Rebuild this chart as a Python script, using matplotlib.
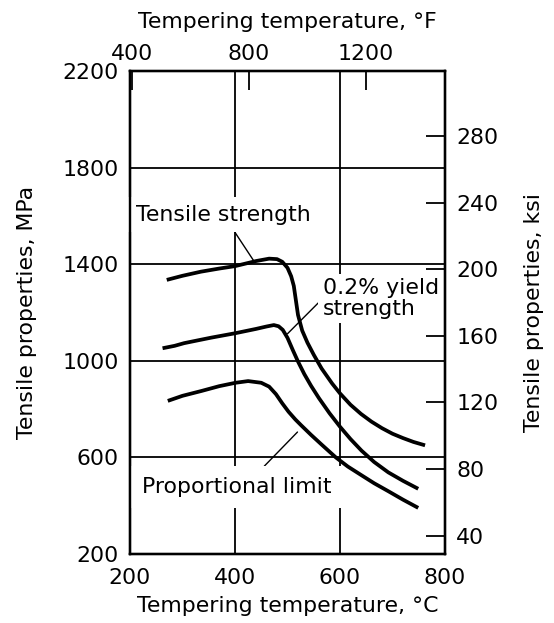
import matplotlib
matplotlib.use("Agg")
import matplotlib.pyplot as plt

# Tempering temperature (deg C) and tensile properties (MPa)
ts_temp = [270, 300, 335, 370, 400, 440, 465, 480, 490, 500, 507, 512, 516, 520,
           528, 538, 550, 565, 585, 600, 620, 640, 660, 680, 700, 720, 740, 762]
ts_mpa = [1335, 1352, 1369, 1382, 1392, 1413, 1423, 1421, 1410, 1385, 1350, 1310,
          1250, 1190, 1125, 1075, 1025, 968, 906, 865, 818, 780, 748, 721, 698,
          680, 664, 650]

ys_temp = [262, 285, 303, 330, 355, 400, 440, 460, 474, 483, 491, 500, 510, 520,
           532, 545, 560, 580, 600, 620, 641, 665, 692, 720, 749]
ys_mpa = [1052, 1062, 1073, 1085, 1096, 1114, 1132, 1142, 1148, 1143, 1128, 1095,
          1045, 997, 945, 896, 845, 783, 727, 676, 628, 581, 538, 503, 470]

pl_temp = [272, 300, 336, 370, 401, 425, 450, 465, 478, 490, 502, 515, 526, 545,
           565, 592, 615, 641, 665, 692, 720, 749]
pl_mpa = [834, 855, 875, 895, 909, 916, 909, 893, 862, 824, 789, 757, 733, 693,
          653, 600, 562, 526, 493, 460, 425, 391]

c_ticks = [200, 400, 600, 800]
mpa_ticks = [200, 600, 1000, 1400, 1800, 2200]
f_ticks = [400, 800, 1200]
ksi_ticks = [40, 80, 120, 160, 200, 240, 280]

MPA_PER_KSI = 6.89476

plt.rcParams["font.family"] = ["DejaVu Sans"]
FS = 15.8

fig = plt.figure(figsize=(5.54, 6.23), dpi=100)
W, H = 554, 623
ax = fig.add_axes([130 / W, 1 - 554 / H, 315 / W, 483 / H])

ax.set_xlim(200, 800)
ax.set_ylim(200, 2200)
ax.set_xticks(c_ticks)
ax.set_yticks(mpa_ticks)
ax.tick_params(axis="both", length=0, labelsize=FS)
ax.tick_params(axis="x", pad=10)
ax.tick_params(axis="y", pad=8)
ax.grid(True, color="black", linewidth=1.3)
for s in ax.spines.values():
    s.set_linewidth(1.6)

curve_kw = dict(color="black", linewidth=2.7, solid_capstyle="butt",
                solid_joinstyle="round", zorder=2)
ax.plot(ts_temp, ts_mpa, **curve_kw)
ax.plot(ys_temp, ys_mpa, **curve_kw)
ax.plot(pl_temp, pl_mpa, **curve_kw)

def label_box(pad):
    return dict(boxstyle=f"square,pad={pad}", facecolor="white",
                edgecolor="none")

lead = dict(arrowstyle="-", color="black", linewidth=1.0, shrinkA=0, shrinkB=0)

ax.annotate("Tensile strength", xy=(436, 1413), xytext=(377, 1605),
            ha="center", va="center", fontsize=FS, bbox=label_box(0.35),
            arrowprops=dict(lead, relpos=(0.54, 0.0)), zorder=3)
ax.annotate("0.2% yield\nstrength", xy=(500, 1112), xytext=(567, 1258),
            ha="left", va="center", multialignment="left", fontsize=FS,
            linespacing=1.05, bbox=label_box(0.2),
            arrowprops=dict(lead, relpos=(0.0, 0.5)), zorder=3)
ax.annotate("Proportional limit", xy=(519, 705), xytext=(403, 477),
            ha="center", va="center", fontsize=FS, bbox=label_box(0.5),
            arrowprops=dict(lead, relpos=(0.59, 1.0)), zorder=3)

# Secondary scales: ksi on the right, deg F on top
ax_ksi = ax.twinx()
ax_ksi.set_ylim(200 / MPA_PER_KSI, 2200 / MPA_PER_KSI)
ax_ksi.set_yticks(ksi_ticks)
ax_ksi.tick_params(axis="y", direction="in", length=13.5, width=1.3,
                   labelsize=FS, pad=8)

ax_f = ax.twiny()
ax_f.set_xlim(200 * 9 / 5 + 32, 800 * 9 / 5 + 32)
ax_f.set_xticks(f_ticks)
ax_f.tick_params(axis="x", direction="in", length=13.5, width=1.3,
                 labelsize=FS, pad=5)
for a in (ax_ksi, ax_f):
    for s in a.spines.values():
        s.set_linewidth(1.6)

ax.text(0.5, -(606 - 554) / 483, "Tempering temperature, °C",
        transform=ax.transAxes, ha="center", va="center", fontsize=FS)
ax.text(0.5, 1 + (71 - 22) / 483, "Tempering temperature, °F",
        transform=ax.transAxes, ha="center", va="center", fontsize=FS)
ax.text(-(130 - 27) / 315, 0.5, "Tensile properties, MPa",
        transform=ax.transAxes, ha="center", va="center", rotation=90,
        fontsize=FS)
ax.text(1 + (534 - 445) / 315, 0.5, "Tensile properties, ksi",
        transform=ax.transAxes, ha="center", va="center", rotation=90,
        fontsize=FS)

fig.savefig("out.png", dpi=100, facecolor="white")
